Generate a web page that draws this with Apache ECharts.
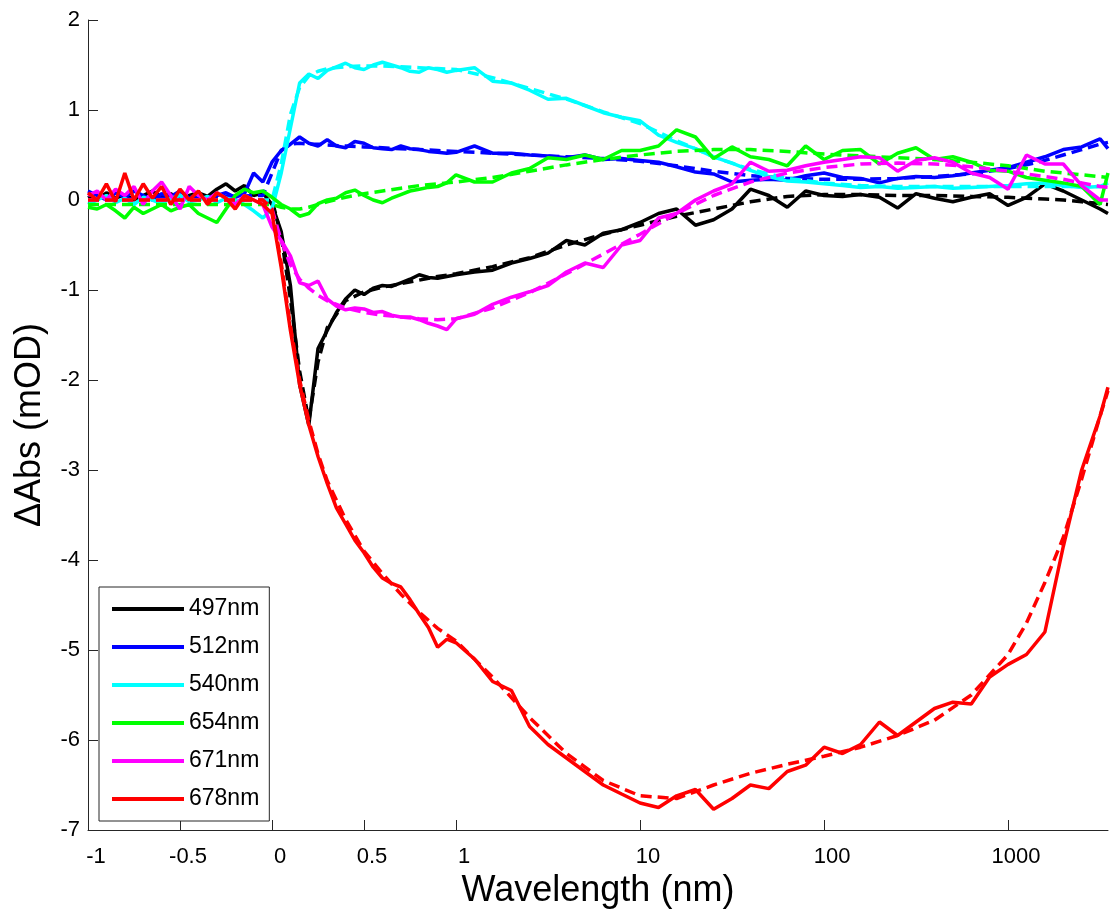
<!DOCTYPE html>
<html><head><meta charset="utf-8">
<script src="https://cdn.jsdelivr.net/npm/echarts@6/dist/echarts.min.js"></script>
<style>html,body{margin:0;padding:0;background:#fff}#c{width:1110px;height:920px}</style>
</head><body><div id="c"></div><script>
// x values (time axis, labelled "Wavelength (nm)"): linear -1..1, logarithmic above 1
const xData = [-1,-0.95,-0.9,-0.85,-0.8,-0.75,-0.7,-0.65,-0.6,-0.55,-0.5,-0.45,-0.4,-0.35,-0.3,-0.25,-0.2,-0.15,-0.1,-0.05,
  0,0.05,0.1,0.15,0.2,0.25,0.3,0.35,0.4,0.45,0.5,0.55,0.6,0.65,0.7,0.75,0.8,0.85,0.9,0.95,1,
  1.26,1.58,2,2.51,3.16,3.98,5.01,6.31,7.94,10,12.6,15.8,20,25.1,31.6,39.8,50.1,63.1,79.4,100,
  126,158,200,251,316,398,501,631,794,1000,1259,1585,1995,2512,3162,3490];
const fitX = [-1,-0.05,0,0.05,0.1,0.15,0.2,0.25,0.3,0.4,0.5,0.6,0.7,0.8,0.9,1,
  1.58,2.51,3.98,6.31,10,15.8,25.1,39.8,63.1,100,158,251,398,631,1000,1259,1585,1995,2512,3162,3490];

const seriesNames = ['497nm','512nm','540nm','654nm','671nm','678nm'];
const seriesColors = ['#000000','#0000ff','#00ffff','#00ff00','#ff00ff','#ff0000'];

const d497 = [0.05,0.0,0.08,0.02,0.06,0.0,0.05,0.1,0.03,0.07,0.0,0.05,0.08,0.04,0.12,0.18,0.1,0.16,0.05,0.08,
  -0.05,-0.35,-0.95,-2.05,-2.5,-1.65,-1.45,-1.25,-1.1,-1.0,-1.05,-0.98,-0.95,-0.96,-0.92,-0.88,-0.83,-0.86,-0.87,-0.85,-0.83,
  -0.8,-0.78,-0.7,-0.65,-0.59,-0.45,-0.5,-0.37,-0.33,-0.25,-0.15,-0.1,-0.28,-0.22,-0.1,0.12,0.05,-0.08,0.1,0.05,
  0.04,0.06,0.03,-0.09,0.07,0.02,-0.02,0.03,0.07,-0.06,0.03,0.18,0.1,0.0,-0.1,-0.15];
const d512 = [0.1,0.05,0.0,0.08,0.03,0.1,0.05,0.0,0.07,0.04,0.1,0.02,0.06,0.0,0.05,0.08,0.03,0.07,0.3,0.2,
  0.42,0.55,0.62,0.7,0.63,0.6,0.67,0.6,0.58,0.65,0.63,0.58,0.57,0.56,0.6,0.57,0.56,0.54,0.53,0.52,0.53,
  0.6,0.52,0.52,0.5,0.49,0.47,0.5,0.45,0.46,0.44,0.42,0.37,0.31,0.29,0.2,0.22,0.23,0.22,0.27,0.3,
  0.25,0.24,0.19,0.24,0.26,0.25,0.27,0.3,0.33,0.36,0.42,0.48,0.56,0.59,0.68,0.57];
const d540 = [-0.05,0.0,0.05,-0.03,0.02,-0.05,0.03,0.0,-0.04,0.02,0.05,-0.02,0.0,0.04,-0.03,0.02,0.0,-0.05,-0.12,-0.2,
  -0.1,0.3,0.8,1.3,1.4,1.35,1.44,1.48,1.52,1.47,1.45,1.5,1.53,1.5,1.47,1.43,1.42,1.47,1.45,1.42,1.44,
  1.47,1.32,1.3,1.22,1.12,1.13,1.05,0.97,0.92,0.88,0.72,0.64,0.57,0.48,0.41,0.33,0.26,0.21,0.2,0.18,
  0.16,0.14,0.15,0.13,0.14,0.15,0.13,0.14,0.15,0.16,0.18,0.19,0.16,0.14,0.15,0.19];
const d654 = [-0.08,-0.1,-0.05,-0.12,-0.2,-0.08,-0.15,-0.1,-0.05,-0.12,-0.08,-0.05,-0.15,-0.2,-0.25,-0.1,0.05,0.12,0.08,0.1,
  0.03,-0.05,-0.1,-0.18,-0.15,-0.04,0.0,0.02,0.08,0.11,0.05,0.0,-0.03,0.02,0.06,0.1,0.12,0.14,0.15,0.19,0.28,
  0.2,0.2,0.3,0.35,0.47,0.45,0.5,0.45,0.55,0.55,0.6,0.78,0.7,0.46,0.59,0.48,0.45,0.38,0.6,0.45,
  0.55,0.56,0.4,0.52,0.58,0.45,0.48,0.42,0.33,0.32,0.25,0.22,0.19,0.15,-0.05,0.3];
const d671 = [0.05,0.1,0.0,0.12,0.05,0.15,-0.05,0.1,0.2,0.05,-0.1,0.15,0.05,0.0,0.08,0.02,-0.05,0.05,0.0,-0.05,
  -0.3,-0.45,-0.62,-0.92,-0.95,-0.9,-1.1,-1.18,-1.22,-1.2,-1.21,-1.25,-1.24,-1.28,-1.3,-1.3,-1.33,-1.37,-1.4,-1.44,-1.32,
  -1.27,-1.16,-1.08,-1.02,-0.95,-0.8,-0.7,-0.75,-0.5,-0.45,-0.2,-0.15,0.0,0.1,0.18,0.42,0.32,0.33,0.38,0.42,
  0.45,0.48,0.47,0.32,0.44,0.47,0.42,0.3,0.25,0.12,0.5,0.4,0.4,0.16,0.0,0.0];
const d678 = [0.08,0.0,0.18,-0.02,0.3,0.0,0.18,0.02,0.15,-0.05,0.12,0.0,0.1,-0.05,0.08,0.02,-0.1,0.05,0.0,-0.05,
  -0.15,-0.75,-1.45,-2.05,-2.5,-2.85,-3.15,-3.42,-3.6,-3.78,-3.92,-4.08,-4.2,-4.26,-4.3,-4.44,-4.6,-4.75,-4.97,-4.88,-4.92,
  -5.1,-5.35,-5.45,-5.85,-6.05,-6.2,-6.35,-6.5,-6.6,-6.7,-6.75,-6.62,-6.55,-6.77,-6.65,-6.5,-6.54,-6.35,-6.28,-6.08,
  -6.15,-6.05,-5.8,-5.95,-5.8,-5.65,-5.58,-5.6,-5.3,-5.16,-5.05,-4.8,-3.85,-3.0,-2.4,-2.08];

const f497 = [0,0,0,-0.4,-1.1,-1.9,-2.45,-1.8,-1.42,-1.12,-1.02,-0.97,-0.93,-0.89,-0.85,-0.82,
  -0.74,-0.64,-0.5,-0.38,-0.28,-0.18,-0.1,-0.02,0.04,0.06,0.06,0.05,0.05,0.04,0.03,0.02,0.01,0.0,-0.02,-0.04,-0.05];
const f512 = [0,0.05,0.3,0.55,0.62,0.63,0.62,0.62,0.61,0.6,0.59,0.58,0.57,0.56,0.55,0.54,
  0.52,0.5,0.48,0.46,0.43,0.38,0.32,0.27,0.24,0.23,0.23,0.24,0.26,0.29,0.35,0.39,0.44,0.5,0.56,0.62,0.64];
const f540 = [0,0,0,0.4,0.95,1.25,1.38,1.43,1.46,1.48,1.49,1.49,1.48,1.47,1.46,1.45,
  1.36,1.24,1.12,0.98,0.85,0.66,0.48,0.34,0.24,0.19,0.16,0.15,0.15,0.15,0.15,0.15,0.15,0.15,0.15,0.15,0.15];
const f654 = [-0.05,-0.05,-0.05,-0.08,-0.1,-0.1,-0.08,-0.05,-0.02,0.03,0.07,0.1,0.13,0.16,0.18,0.2,
  0.25,0.32,0.39,0.45,0.5,0.54,0.56,0.56,0.54,0.51,0.49,0.47,0.45,0.42,0.38,0.35,0.32,0.3,0.28,0.26,0.25];
const f671 = [0,0,-0.1,-0.45,-0.72,-0.88,-0.98,-1.06,-1.12,-1.2,-1.25,-1.28,-1.3,-1.32,-1.33,-1.32,
  -1.2,-1.03,-0.82,-0.6,-0.38,-0.15,0.05,0.2,0.3,0.36,0.4,0.41,0.4,0.37,0.32,0.29,0.26,0.23,0.19,0.15,0.14];
const f678 = [0,0,-0.1,-0.7,-1.4,-2.0,-2.45,-2.82,-3.12,-3.55,-3.9,-4.15,-4.38,-4.58,-4.76,-4.9,
  -5.3,-5.75,-6.15,-6.45,-6.62,-6.65,-6.5,-6.37,-6.27,-6.18,-6.08,-5.95,-5.78,-5.5,-5.05,-4.7,-4.25,-3.75,-3.1,-2.4,-2.12];

const tickValues = [-1,-0.5,0,0.5,1,10,100,1000];
const tickLabels = ['-1','-0.5','0','0.5','1','10','100','1000'];

const measured = [d497,d512,d540,d654,d671,d678];
const fitted = [f497,f512,f540,f654,f671,f678];

// piecewise axis: linear up to 1, log10 beyond
const toT = x => x <= 1 ? x : 1 + Math.log10(x);
const tickT = tickValues.map(toT);
const FONT = 'Liberation Sans, Arial, Helvetica, sans-serif';

const series = [];
seriesNames.forEach((n, i) => {
  const c = seriesColors[i];
  series.push({
    type: 'line', name: n, symbol: 'none', showSymbol: false, z: 2 + i * 2,
    data: xData.map((x, j) => [toT(x), measured[i][j]]),
    lineStyle: { color: c, width: 3.5 }, itemStyle: { color: c }, animation: false
  });
  series.push({
    type: 'line', name: n + ' fit', symbol: 'none', showSymbol: false, z: 3 + i * 2,
    data: fitX.map((x, j) => [toT(x), fitted[i][j]]),
    lineStyle: { color: c, width: 3.5, type: [11, 6] }, itemStyle: { color: c }, animation: false
  });
});

const chart = echarts.init(document.getElementById('c'), null, { renderer: 'canvas' });
chart.setOption({
  animation: false,
  backgroundColor: '#ffffff',
  textStyle: { fontFamily: FONT },
  grid: { left: 88, top: 20, right: 2, bottom: 90, containLabel: false, outerBoundsMode: 'none' },
  legend: {
    data: seriesNames, orient: 'vertical', left: 99, top: 587,
    icon: 'rect', itemWidth: 72, itemHeight: 4, itemGap: 12, itemTextGap: 11,
    padding: [9, 10, 9, 13],
    backgroundColor: '#ffffff', borderColor: '#262626', borderWidth: 1, borderRadius: 0,
    textStyle: { fontFamily: FONT, fontSize: 23, color: '#000', lineHeight: 26 },
    selectedMode: false
  },
  xAxis: {
    type: 'value', min: -1, max: 4.543,
    name: 'Wavelength (nm)', nameLocation: 'middle', nameGap: 32,
    nameTextStyle: { fontFamily: FONT, fontSize: 36, color: '#000' },
    axisLine: { show: true, onZero: false, lineStyle: { color: '#262626', width: 1 } },
    axisTick: { show: true, inside: true, length: 10, customValues: tickT, lineStyle: { color: '#262626' } },
    axisLabel: {
      customValues: tickT, margin: 16, fontFamily: FONT, fontSize: 22, color: '#000',
      padding: [0, 0, 0, 16],
      formatter: v => { let k = 0, best = 1e9; tickT.forEach((t, i) => { if (Math.abs(t - v) < best) { best = Math.abs(t - v); k = i; } }); return tickLabels[k]; }
    },
    splitLine: { show: false }
  },
  yAxis: {
    type: 'value', min: -7, max: 2, interval: 1,
    name: 'ΔAbs (mOD)', nameLocation: 'middle', nameGap: 40, nameRotate: 90,
    nameTextStyle: { fontFamily: FONT, fontSize: 36, color: '#000' },
    axisLine: { show: true, onZero: false, lineStyle: { color: '#262626', width: 1 } },
    axisTick: { show: true, inside: true, length: 10, lineStyle: { color: '#262626' } },
    axisLabel: { margin: 8, fontFamily: FONT, fontSize: 22, color: '#000' },
    splitLine: { show: false }
  },
  series: series
});
</script></body></html>
